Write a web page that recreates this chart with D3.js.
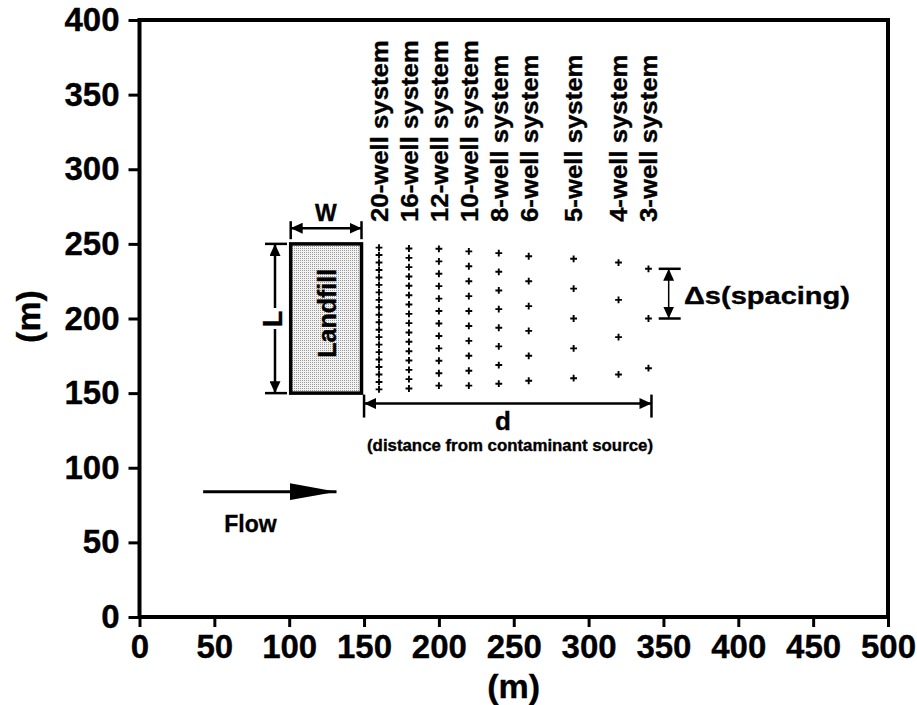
<!DOCTYPE html>
<html>
<head>
<meta charset="utf-8">
<script src="https://cdn.jsdelivr.net/npm/d3@7"></script>
<style>
  html, body { margin: 0; padding: 0; background: #fff; }
  svg { display: block; font-family: "Liberation Sans", Arial, sans-serif; font-weight: bold; }
  svg text { stroke: #000; stroke-width: 0.35px; fill: #000; }
</style>
</head>
<body>
<svg id="chart" width="917" height="705"></svg>
<script>
// ---------- data ----------
const xTicks = [0, 50, 100, 150, 200, 250, 300, 350, 400, 450, 500];
const yTicks = [0, 50, 100, 150, 200, 250, 300, 350, 400];
const systemLabels = ["20-well system", "16-well system", "12-well system", "10-well system",
  "8-well system", "6-well system", "5-well system", "4-well system", "3-well system"];
const wellX = [160, 180, 200, 220, 240, 260, 290, 320, 340];
const wellY20 = [152.5, 157.5, 162.5, 167.5, 172.5, 177.5, 182.5, 187.5, 192.5, 197.5,
  202.5, 207.5, 212.5, 217.5, 222.5, 227.5, 232.5, 237.5, 242.5, 247.5];
const wellY16 = [153.1, 159.4, 165.6, 171.9, 178.1, 184.4, 190.6, 196.9,
  203.1, 209.4, 215.6, 221.9, 228.1, 234.4, 240.6, 246.9];
const wellY12 = [155, 163.3, 171.7, 180, 188.3, 196.7, 205, 213.3, 221.7, 230, 238.3, 246.7];
const wellY10 = [155, 165, 175, 185, 195, 205, 215, 225, 235, 245];
const wellY8 = [156.3, 168.8, 181.3, 193.8, 206.3, 218.8, 231.3, 243.8];
const wellY6 = [158.3, 175, 191.7, 208.3, 225, 241.7];
const wellY5 = [160, 180, 200, 220, 240];
const wellY4 = [162.5, 187.5, 212.5, 237.5];
const wellY3 = [166.7, 200, 233.3];
const wellYs = [wellY20, wellY16, wellY12, wellY10, wellY8, wellY6, wellY5, wellY4, wellY3];
const landfill = { x0: 101, x1: 148.3, y0: 150, y1: 250 };
const axisTitle = "(m)";

// ---------- layout ----------
const svg = d3.select("#chart");
const x = d3.scaleLinear().domain([0, 500]).range([139.5, 888]);
const y = d3.scaleLinear().domain([0, 400]).range([617, 20]);

const defs = svg.append("defs");
const pat = defs.append("pattern").attr("id", "stipple").attr("patternUnits", "userSpaceOnUse")
  .attr("width", 2).attr("height", 2);
pat.append("rect").attr("width", 2).attr("height", 2).attr("fill", "#f2f2f2");
pat.append("rect").attr("width", 1).attr("height", 1).attr("fill", "#9a9a9a");
const mk = (id, w, h) => {
  const m = defs.append("marker").attr("id", id).attr("viewBox", `0 0 ${w} ${h}`)
    .attr("refX", w).attr("refY", h / 2).attr("markerWidth", w).attr("markerHeight", h)
    .attr("markerUnits", "userSpaceOnUse").attr("orient", "auto-start-reverse");
  m.append("path").attr("d", `M0,0L${w},${h / 2}L0,${h}Z`).attr("fill", "#000");
};
mk("ah", 12, 11);
mk("flowhead", 47, 17);

// axes
const xAxis = svg.append("g").attr("transform", `translate(0,${y(0)})`)
  .call(d3.axisBottom(x).tickValues(xTicks).tickSize(10).tickPadding(8).tickFormat(d3.format("d")));
const yAxis = svg.append("g").attr("transform", `translate(${x(0)},0)`)
  .call(d3.axisLeft(y).tickValues(yTicks).tickSize(11).tickPadding(9).tickFormat(d3.format("d")));
[xAxis, yAxis].forEach(g => {
  g.select(".domain").remove();
  g.selectAll(".tick line").attr("stroke", "#000").attr("stroke-width", 3);
  g.selectAll(".tick text").attr("fill", "#000").style("font-size", "33px")
    .style("font-weight", "bold").style("font-family", "Liberation Sans, Arial, sans-serif");
});
// frame
svg.append("rect").attr("x", x(0)).attr("y", y(400)).attr("width", x(500) - x(0)).attr("height", y(0) - y(400))
  .attr("fill", "none").attr("stroke", "#000").attr("stroke-width", 4);

// axis titles
svg.append("text").attr("x", x(250)).attr("y", 698).attr("text-anchor", "middle")
  .style("font-size", "34px").text(axisTitle);
svg.append("text").attr("transform", `translate(40,${y(200) - 2}) rotate(-90)`).attr("text-anchor", "middle")
  .style("font-size", "34px").text(axisTitle);

// landfill
svg.append("rect").attr("x", x(landfill.x0)).attr("y", y(landfill.y1))
  .attr("width", x(landfill.x1) - x(landfill.x0)).attr("height", y(landfill.y0) - y(landfill.y1))
  .attr("fill", "url(#stipple)").attr("stroke", "#000").attr("stroke-width", 3.5);
svg.append("text").attr("transform", `translate(${x(125)},${y(203.5)}) rotate(-90)`)
  .attr("text-anchor", "middle").attr("dy", "0.36em").style("font-size", "25px").text("Landfill");

// wells
const cross = "M-3.4,0H3.4M0,-3.4V3.4";
const labelNodes = [];
wellYs.forEach((ys, i) => {
  svg.append("g").selectAll("path").data(ys).join("path")
    .attr("transform", d => `translate(${x(wellX[i])},${y(d)})`)
    .attr("d", cross).attr("stroke", "#000").attr("stroke-width", 1.9);
  const t = svg.append("text").attr("transform", `translate(${x(wellX[i])},222) rotate(-90)`)
    .attr("dy", "0.36em").style("font-size", "24.5px").text(systemLabels[i]);
  labelNodes.push(t);
});
// stretch labels along the text direction so "20-well system" spans 182 px, as in the figure
const k = 182 / labelNodes[0].node().getComputedTextLength();
labelNodes.forEach((t, i) => t.attr("transform", `translate(${x(wellX[i])},222) rotate(-90) scale(${k},1)`));

// helpers
const line = (x1, y1, x2, y2, w, extra) => {
  const l = svg.append("line").attr("x1", x1).attr("y1", y1).attr("x2", x2).attr("y2", y2)
    .attr("stroke", "#000").attr("stroke-width", w);
  if (extra) extra(l);
  return l;
};

// W dimension
const wy = y(260.5);
line(x(101), wy, x(148.3), wy, 2.5, l => l.attr("marker-start", "url(#ah)").attr("marker-end", "url(#ah)"));
line(x(101), wy - 7, x(101), wy + 11, 2.5);
line(x(148.3), wy - 7, x(148.3), wy + 11, 2.5);
svg.append("text").attr("x", x(124.5)).attr("y", 221).attr("text-anchor", "middle").style("font-size", "23px").text("W");

// L dimension
const lx = 275;
line(265, y(250), 287, y(250), 2.5);
line(265, y(150), 287, y(150), 2.5);
line(lx, y(250), lx, 308, 2.5, l => l.attr("marker-start", "url(#ah)"));
line(lx, 329, lx, y(150), 2.5, l => l.attr("marker-end", "url(#ah)"));
svg.append("text").attr("transform", `translate(${lx - 3},319) rotate(-90)`).attr("text-anchor", "middle")
  .attr("dy", "0.36em").style("font-size", "27px").text("L");

// d dimension
const dy0 = y(143);
line(x(150), dy0, x(342), dy0, 2.5, l => l.attr("marker-start", "url(#ah)").attr("marker-end", "url(#ah)"));
line(x(150), dy0 - 9, x(150), dy0 + 14, 2.5);
line(x(342), dy0 - 9, x(342), dy0 + 14, 2.5);
svg.append("text").attr("x", 503).attr("y", 430).attr("text-anchor", "middle").style("font-size", "26px").text("d");
svg.append("text").attr("x", 367).attr("y", 451).style("font-size", "16px")
  .attr("textLength", 286).attr("lengthAdjust", "spacingAndGlyphs")
  .text("(distance from contaminant source)");

// Δs dimension
const sx = x(353.5);
line(sx - 10, y(233.3), sx + 12, y(233.3), 2.5);
line(sx - 10, y(200), sx + 12, y(200), 2.5);
line(sx, y(233.3), sx, y(200), 1.5, l => l.attr("marker-start", "url(#ah)").attr("marker-end", "url(#ah)"));
svg.append("text").attr("x", 684).attr("y", 304).style("font-size", "24px")
  .attr("textLength", 166).attr("lengthAdjust", "spacingAndGlyphs").text("\u0394s(spacing)");

// flow arrow
line(x(42.5), y(84), x(131.6), y(84), 3, l => l.attr("marker-end", "url(#flowhead)"));
svg.append("text").attr("x", x(56.6)).attr("y", 531.5).style("font-size", "23px").text("Flow");
</script>
</body>
</html>
